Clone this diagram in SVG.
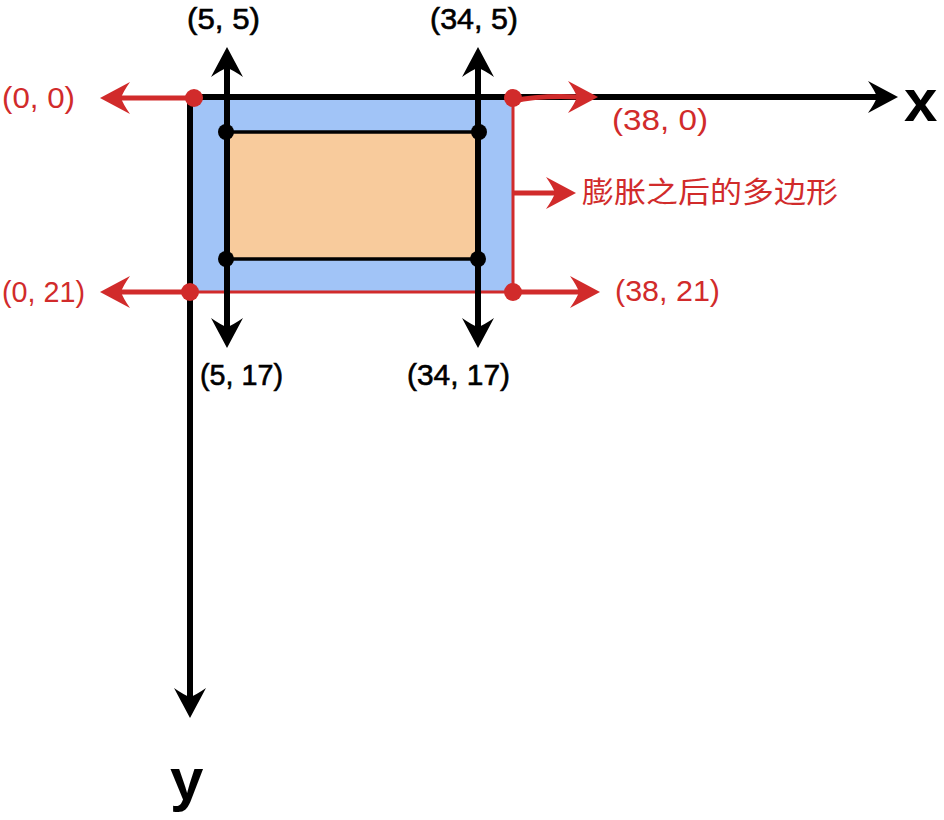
<svg xmlns="http://www.w3.org/2000/svg" xmlns:xlink="http://www.w3.org/1999/xlink" width="944" height="820" viewBox="0 0 944 820">
<style>
.lbl{font-family:"Liberation Sans","Noto Sans",Arial,sans-serif;font-size:29px;}
.red{fill:#d12b2b;}
.blk{fill:#000;stroke:#000;stroke-width:0.6;}
.ax{font-family:"Liberation Sans",Arial,sans-serif;font-size:60px;font-weight:bold;fill:#000;}
.cjk{font-family:"Noto Sans CJK SC","Noto Sans",sans-serif;font-size:29px;fill:#d12b2b;}
.bl{stroke:#000;stroke-width:6;fill:none;}
.rl{stroke:#d12b2b;stroke-width:5;fill:none;}
</style>
<defs>
<path id="ah" d="M0,0 L-30,-16 Q-23,-6 -21,0 Q-23,6 -30,16 Z"/>
</defs>
<rect width="944" height="820" fill="#fff"/>
<g id="expanded">
<rect x="190" y="97" width="323" height="195" fill="#a1c4f7"/>
<path d="M513,97 V292 H190" stroke="#d12b2b" stroke-width="3" fill="none"/>
</g>
<g id="original">
<rect x="226" y="132" width="253" height="127" fill="#f8cb9c" stroke="#000" stroke-width="3.5"/>
</g>
<g id="connectors">
<path class="bl" d="M190,97 H880"/>
<use xlink:href="#ah" transform="translate(898,97)" fill="#000"/>
<path class="bl" d="M190,94 V700"/>
<use xlink:href="#ah" transform="translate(190,718) rotate(90)" fill="#000"/>
<path class="bl" d="M227,65 V330"/>
<use xlink:href="#ah" transform="translate(227,47) rotate(-90)" fill="#000"/>
<use xlink:href="#ah" transform="translate(227,348) rotate(90)" fill="#000"/>
<path class="bl" d="M478,65 V330"/>
<use xlink:href="#ah" transform="translate(478,47) rotate(-90)" fill="#000"/>
<use xlink:href="#ah" transform="translate(478,348) rotate(90)" fill="#000"/>
<path class="rl" d="M193,98 H120"/>
<use xlink:href="#ah" transform="translate(100,98) rotate(180)" fill="#d12b2b"/>
<path class="rl" d="M190,292 H120"/>
<use xlink:href="#ah" transform="translate(100,292) rotate(180)" fill="#d12b2b"/>
<path class="rl" d="M513,292 H582"/>
<use xlink:href="#ah" transform="translate(600,292)" fill="#d12b2b"/>
<path class="rl" d="M513,193 H557"/>
<use xlink:href="#ah" transform="translate(576,193)" fill="#d12b2b"/>
<path class="rl" d="M513,101 Q540,95 580,97"/>
<use xlink:href="#ah" transform="translate(598,97)" fill="#d12b2b"/>
</g>
<g id="points">
<circle cx="226" cy="132" r="8" fill="#000"/>
<circle cx="479" cy="132" r="8" fill="#000"/>
<circle cx="226" cy="259" r="8" fill="#000"/>
<circle cx="478" cy="259" r="8" fill="#000"/>
<circle cx="194" cy="98" r="9" fill="#d12b2b"/>
<circle cx="190" cy="292" r="9" fill="#d12b2b"/>
<circle cx="513" cy="98" r="9" fill="#d12b2b"/>
<circle cx="513" cy="292" r="9" fill="#d12b2b"/>
</g>
<g id="labels">
<text class="lbl red" x="2" y="108" textLength="73" lengthAdjust="spacingAndGlyphs">(0, 0)</text>
<text class="lbl red" x="2" y="302" textLength="83" lengthAdjust="spacingAndGlyphs">(0, 21)</text>
<text class="lbl red" x="612" y="130" textLength="96" lengthAdjust="spacingAndGlyphs">(38, 0)</text>
<text class="lbl red" x="615" y="301" textLength="105" lengthAdjust="spacingAndGlyphs">(38, 21)</text>
<text class="lbl blk" x="187" y="29" textLength="73" lengthAdjust="spacingAndGlyphs">(5, 5)</text>
<text class="lbl blk" x="430" y="29" textLength="88" lengthAdjust="spacingAndGlyphs">(34, 5)</text>
<text class="lbl blk" x="200" y="385" textLength="83" lengthAdjust="spacingAndGlyphs">(5, 17)</text>
<text class="lbl blk" x="407" y="385" textLength="103" lengthAdjust="spacingAndGlyphs">(34, 17)</text>
<text class="cjk" x="582" y="203" textLength="256" lengthAdjust="spacingAndGlyphs">膨胀之后的多边形</text>
<text class="ax" x="904" y="121">x</text>
<text class="ax" x="170" y="800">y</text>
</g>
</svg>
